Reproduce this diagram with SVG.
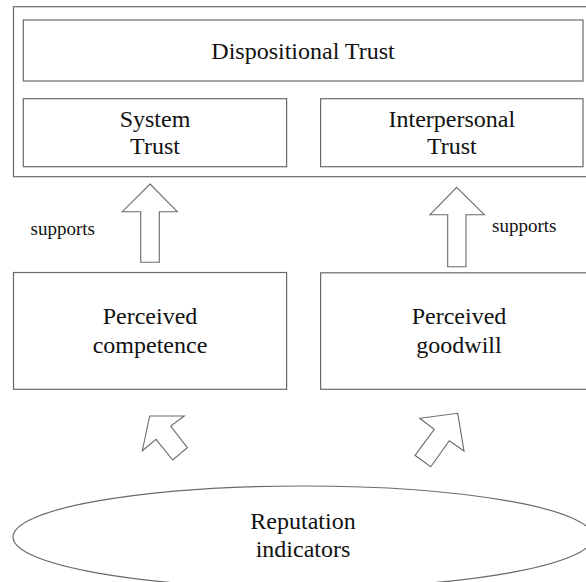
<svg xmlns="http://www.w3.org/2000/svg" width="586" height="582" viewBox="0 0 586 582">
<style>
.box{fill:#fff;stroke:#6a6a6a;stroke-width:1.2}
.arr{fill:#fff;stroke:#6a6a6a;stroke-width:1.1;stroke-linejoin:miter}
text{fill:#111;text-anchor:middle}
.t{font-size:24px}
.s{font-size:19px;text-anchor:start}
</style>
<rect width="586" height="582" fill="#fff"/>
<g font-family="'Liberation Serif', 'Times New Roman', 'DejaVu Serif', serif">
<g id="outer"><rect class="box" x="13.5" y="6.7" width="590" height="170"/></g>
<g id="dispositional"><rect class="box" x="23.3" y="20" width="559.7" height="61"/><text class="t" x="303" y="59.3">Dispositional Trust</text></g>
<g id="system"><rect class="box" x="23.3" y="98.7" width="263.3" height="68"/><text class="t" x="155" y="126.7">System</text><text class="t" x="155" y="154.3">Trust</text></g>
<g id="interpersonal"><rect class="box" x="320.6" y="98.7" width="262.4" height="68"/><text class="t" x="451.8" y="126.7">Interpersonal</text><text class="t" x="451.8" y="154.3">Trust</text></g>
<g id="competence"><rect class="box" x="13.5" y="272.5" width="273.1" height="116.8"/><text class="t" x="150" y="324">Perceived</text><text class="t" x="150" y="352.7">competence</text></g>
<g id="goodwill"><rect class="box" x="320.6" y="272.8" width="276" height="116.5"/><text class="t" x="459" y="324">Perceived</text><text class="t" x="459" y="352.7">goodwill</text></g>
<g id="reputation"><ellipse class="box" cx="303" cy="537" rx="290" ry="51"/><text class="t" x="303" y="529.3">Reputation</text><text class="t" x="303" y="557">indicators</text></g>
<g id="connectors">
<polygon class="arr" points="150,184 177.3,211.7 159.3,211.7 159.3,262.3 140.7,262.3 140.7,211.7 122.3,211.7"/>
<polygon class="arr" points="456.7,187.3 484.3,214.7 466,214.7 466,266.7 447.7,266.7 447.7,214.7 430,214.7"/>
<polygon class="arr" points="149.7,416 184.3,416 170.7,426 187.3,447.7 172.7,460 156,439.3 142.3,450.7"/>
<polygon class="arr" points="457.7,413.3 464,451 449.3,440.7 430.7,466.7 415,455.3 434.3,429.3 419.7,418.3"/>
<text class="s" x="30.6" y="235">supports</text>
<text class="s" x="492" y="232.3">supports</text>
</g>
</g>
</svg>
